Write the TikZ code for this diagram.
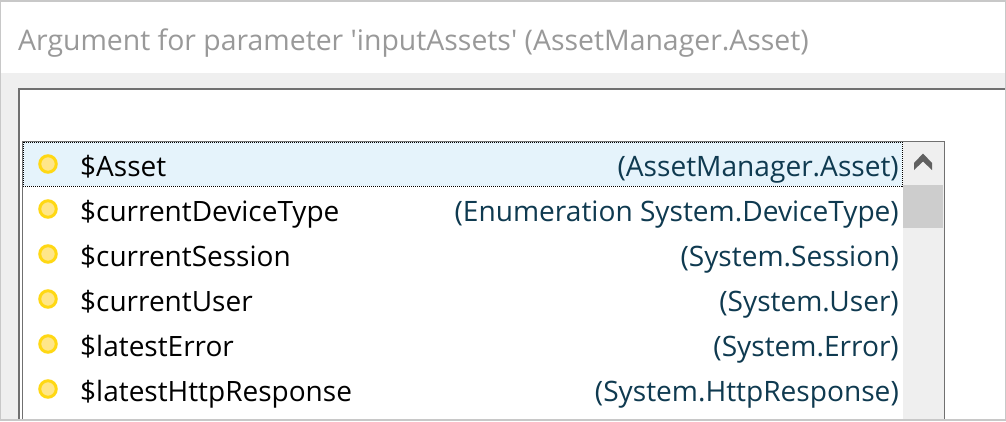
\documentclass[tikz,border=0pt]{standalone}
\usepackage{fontspec}
\setmainfont{Open Sans}
\usetikzlibrary{positioning}
\definecolor{framegray}{HTML}{C8C8C8}
\definecolor{panelgray}{HTML}{EFEFEF}
\definecolor{boxline}{HTML}{707070}
\definecolor{thumbgray}{HTML}{CDCDCD}
\definecolor{chevrongray}{HTML}{606060}
\definecolor{rowblue}{HTML}{E5F3FB}
\definecolor{hinttext}{HTML}{999999}
\definecolor{typetext}{HTML}{0F3A50}
\definecolor{dotfill}{HTML}{FFE68A}
\definecolor{dotline}{HTML}{FFD814}
\tikzset{
    % Panels
    panel/.style={
        rectangle,
        draw=none,
        inner sep=0pt,
        outer sep=0pt,
        anchor=north west
    },
    % Text
    hint/.style={
        font=\fontsize{28.4}{32}\selectfont,
        text=hinttext,
        inner sep=0pt,
        anchor=base west
    },
    varname/.style={
        font=\fontsize{28}{32}\selectfont,
        text=black,
        inner sep=0pt,
        anchor=base west
    },
    vartype/.style={
        font=\fontsize{28.1}{32}\selectfont,
        text=typetext,
        inner sep=0pt,
        anchor=base east
    },
    % Markers
    vardot/.style={
        circle,
        draw=dotline,
        line width=3pt,
        fill=dotfill,
        inner sep=0pt,
        minimum size=16.5pt
    }
}
\begin{document}
\begin{tikzpicture}[x=1pt,y=-1pt]
    \useasboundingbox (0,0) rectangle (1006,421);

    % Window
    \node[panel, fill=panelgray, minimum width=1006pt, minimum height=421pt] (window) at (0,0) {};
    \node[panel, fill=white, minimum width=1004pt, minimum height=71pt] (header) at (1,2) {};
    \node[hint] (title) at (18,50) {Argument for parameter \textquotesingle inputAssets\textquotesingle{} (AssetManager.Asset)};

    % Input box
    \node[panel, fill=white, minimum width=986pt, minimum height=330pt] (inputbox) at (19,89) {};
    \draw[boxline, line width=2pt] (inputbox.south west) -- (inputbox.north west) -- (inputbox.north east);

    % List
    \node[panel, fill=white, draw=boxline, line width=1pt, minimum width=922pt, minimum height=279pt] (listbox) at (22,141.5) {};
    \node[panel, fill=panelgray, minimum width=41pt, minimum height=277pt] (scrollbar) at (903,142) {};
    \node[panel, fill=thumbgray, minimum width=40pt, minimum height=43pt] (thumb) at (903,185) {};
    \fill[chevrongray] (923,153.5) -- (932,163) -- (932,170) -- (923,161.5) -- (914,170) -- (914,163) -- cycle;

    % Selected row
    \node[panel, fill=rowblue, draw=black, densely dotted, line width=1pt, minimum width=879pt, minimum height=44pt] (selrow) at (23,142) {};

    % Rows
    \foreach \yy/\vname/\vtype in {
        176/Asset/{(AssetManager.Asset)},
        221/currentDeviceType/{(Enumeration System.DeviceType)},
        266/currentSession/{(System.Session)},
        311/currentUser/{(System.User)},
        356/latestError/{(System.Error)},
        401/latestHttpResponse/{(System.HttpResponse)}
    }{
        \node[vardot] (dot\vname) at (48,\yy-12) {};
        \node[varname] (name\vname) at (80,\yy+0.7) {\$\vname};
        \node[vartype] (type\vname) at (899,\yy+0.7) {\vtype};
    }

    % Frame edges
    \draw[framegray, line width=2pt] (window.south west) ++(0,-1) -- ++(1006,0);
    \draw[framegray, line width=2pt] (window.north west) ++(0,1) -- ++(1006,0);
    \draw[framegray, line width=2pt] (window.north west) -- (window.south west);
    \draw[framegray, line width=2pt] (window.north east) -- (window.south east);
\end{tikzpicture}
\end{document}
